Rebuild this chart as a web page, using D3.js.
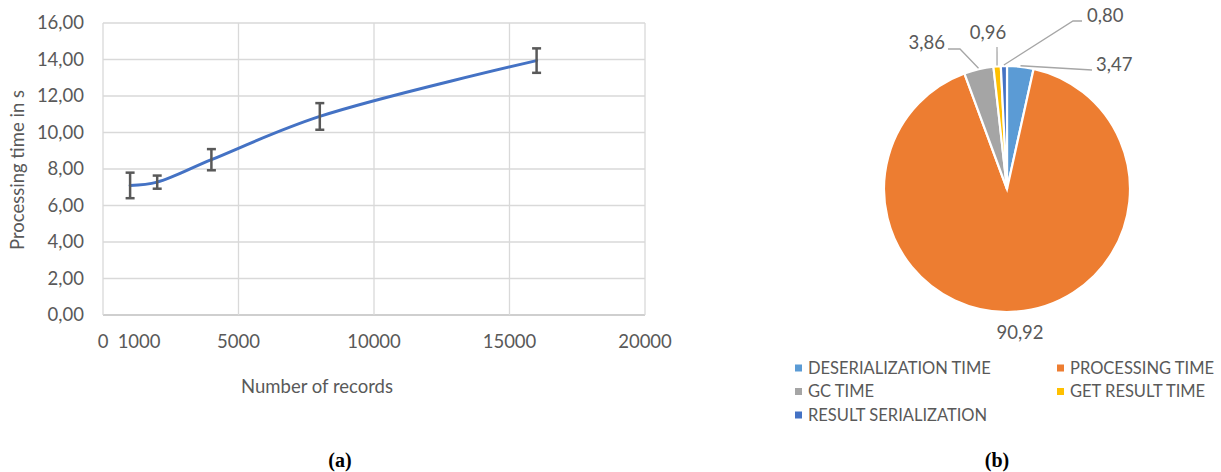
<!DOCTYPE html>
<html>
<head>
<meta charset="utf-8">
<script src="https://cdn.jsdelivr.net/npm/d3@7/dist/d3.min.js"></script>
<style>
  body { margin: 0; background: #fff; }
  text { font-family: Lato, "Open Sans", sans-serif; fill: #595959; }
</style>
</head>
<body>
<svg id="chart" width="1221" height="472"></svg>
<script>
// (a) processing time vs number of records
var records = [1000, 2000, 4000, 8000, 16000];
var seconds = [7.10, 7.28, 8.51, 10.88, 13.94];
var errors = [0.70, 0.36, 0.58, 0.73, 0.67];
var xTicks = [0, 1000, 5000, 10000, 15000, 20000];
var yTicks = [0, 2, 4, 6, 8, 10, 12, 14, 16];

// (b) share of time per stage
var parts = ["DESERIALIZATION TIME", "PROCESSING TIME", "GC TIME", "GET RESULT TIME", "RESULT SERIALIZATION"];
var shares = [3.47, 90.92, 3.86, 0.96, 0.80];
var partColors = ["#5B9BD5", "#ED7D31", "#A5A5A5", "#FFC000", "#4472C4"];

var svg = d3.select("#chart");
var comma = function(v) { return d3.format(".2f")(v).replace(".", ","); };
var fs = "18.5px";

// ---------- line chart ----------
var x = d3.scaleLinear().domain([0, 20000]).range([103, 645]);
var y = d3.scaleLinear().domain([0, 16]).range([315, 23]);

var grid = svg.append("g");
grid.selectAll("line.h")
    .data(yTicks)
    .enter().append("line")
        .attr("x1", x(0)).attr("x2", x(20000))
        .attr("y1", function(d) { return y(d) }).attr("y2", function(d) { return y(d) })
        .attr("stroke", function(d) { return d == 0 ? "#BFBFBF" : "#D9D9D9" })
        .attr("stroke-width", 1.3)
grid.selectAll("line.v")
    .data(xTicks.filter(function(d) { return d % 5000 == 0 }))
    .enter().append("line")
        .attr("y1", y(0)).attr("y2", y(16))
        .attr("x1", function(d) { return x(d) }).attr("x2", function(d) { return x(d) })
        .attr("stroke", "#D9D9D9")
        .attr("stroke-width", 1.3)

svg.selectAll("text.ytick")
    .data(yTicks)
    .enter().append("text")
        .attr("x", 84)
        .attr("y", function(d) { return y(d) })
        .attr("dy", "0.35em")
        .attr("text-anchor", "end")
        .style("font-size", fs)
        .text(comma)

svg.selectAll("text.xtick")
    .data(xTicks)
    .enter().append("text")
        .attr("x", function(d) { return x(d) })
        .attr("dx", function(d) { return d == 1000 ? 9 : 0 })
        .attr("y", 342)
        .attr("dy", "0.35em")
        .attr("text-anchor", "middle")
        .style("font-size", fs)
        .text(function(d) { return d })

svg.append("text")
    .attr("transform", "translate(18,170) rotate(-90)")
    .attr("dy", "0.35em")
    .attr("text-anchor", "middle")
    .style("font-size", fs)
    .text("Processing time in s")

svg.append("text")
    .attr("x", 317).attr("y", 387)
    .attr("dy", "0.35em")
    .attr("text-anchor", "middle")
    .style("font-size", fs)
    .text("Number of records")

var pts = records.map(function(r, i) { return { n: r, t: seconds[i], e: errors[i] } });

var line = d3.line()
    .x(function(d) { return x(d.n) })
    .y(function(d) { return y(d.t) })
    .curve(d3.curveCatmullRom.alpha(0.5));

svg.append("path")
    .datum(pts)
    .attr("d", line)
    .attr("fill", "none")
    .attr("stroke", "#4472C4")
    .attr("stroke-width", 3)
    .attr("stroke-linecap", "round")

var bars = svg.selectAll("g.err")
    .data(pts)
    .enter().append("g")
        .attr("stroke", "#595959")
        .attr("stroke-width", 2.5)
bars.append("line")
    .attr("x1", function(d) { return x(d.n) }).attr("x2", function(d) { return x(d.n) })
    .attr("y1", function(d) { return y(d.t + d.e) }).attr("y2", function(d) { return y(d.t - d.e) })
bars.append("line")
    .attr("x1", function(d) { return x(d.n) - 4.5 }).attr("x2", function(d) { return x(d.n) + 4.5 })
    .attr("y1", function(d) { return y(d.t + d.e) }).attr("y2", function(d) { return y(d.t + d.e) })
bars.append("line")
    .attr("x1", function(d) { return x(d.n) - 4.5 }).attr("x2", function(d) { return x(d.n) + 4.5 })
    .attr("y1", function(d) { return y(d.t - d.e) }).attr("y2", function(d) { return y(d.t - d.e) })

// ---------- pie chart ----------
var cx = 1007, cy = 189, radius = 123;
var pie = d3.pie().sort(null).value(function(d) { return d });
var arc = d3.arc().innerRadius(0).outerRadius(radius);
var slices = pie(shares);

var pg = svg.append("g").attr("transform", "translate(" + cx + "," + cy + ")");
pg.selectAll("path")
    .data(slices)
    .enter().append("path")
        .attr("d", arc)
        .attr("fill", function(d, i) { return partColors[i] })
        .attr("stroke", "#fff")
        .attr("stroke-width", 2.2)

// label placement (relative to pie centre): leader bends and text anchor
var leaderBend = [[[85, -119]], null, [[-47, -140], [-59, -140]], [[-10, -142]], [[66, -168], [75, -168]]];
var labelAt = [[89, -124, "start"], [13, 144, "middle"], [-62, -146, "end"], [-19, -156, "middle"], [80, -173, "start"]];
var outer = function(d, r) {
    var a = (d.startAngle + d.endAngle) / 2;
    return [Math.sin(a) * r, -Math.cos(a) * r];
};

pg.selectAll("polyline")
    .data(slices.filter(function(d, i) { return leaderBend[i] }))
    .enter().append("polyline")
        .attr("points", function(d) {
            return [outer(d, radius + 1)].concat(leaderBend[d.index]).join(" ");
        })
        .attr("fill", "none")
        .attr("stroke", "#A6A6A6")
        .attr("stroke-width", 1.3)

pg.selectAll("text")
    .data(slices)
    .enter().append("text")
        .attr("x", function(d) { return labelAt[d.index][0] })
        .attr("y", function(d) { return labelAt[d.index][1] })
        .attr("dy", "0.35em")
        .attr("text-anchor", function(d) { return labelAt[d.index][2] })
        .style("font-size", fs)
        .text(function(d) { return comma(d.data) })

// legend
var legend = svg.selectAll("g.leg")
    .data(parts)
    .enter().append("g")
        .attr("transform", function(d, i) {
            return "translate(" + (i % 2 ? 1057 : 795) + "," + (368 + Math.floor(i / 2) * 23.5) + ")";
        })
legend.append("rect")
    .attr("x", 0).attr("y", -3.5)
    .attr("width", 7).attr("height", 7)
    .attr("fill", function(d, i) { return partColors[i] })
legend.append("text")
    .attr("x", 13)
    .attr("dy", "0.35em")
    .style("font-size", "16.5px")
    .text(function(d) { return d })

// captions
svg.selectAll("text.cap")
    .data([["(a)", 340], ["(b)", 997]])
    .enter().append("text")
        .attr("x", function(d) { return d[1] })
        .attr("y", 467)
        .attr("text-anchor", "middle")
        .style("font-family", "'Liberation Serif', serif")
        .style("font-weight", "bold")
        .style("font-size", "20px")
        .style("fill", "#000")
        .text(function(d) { return d[0] })
</script>
</body>
</html>
